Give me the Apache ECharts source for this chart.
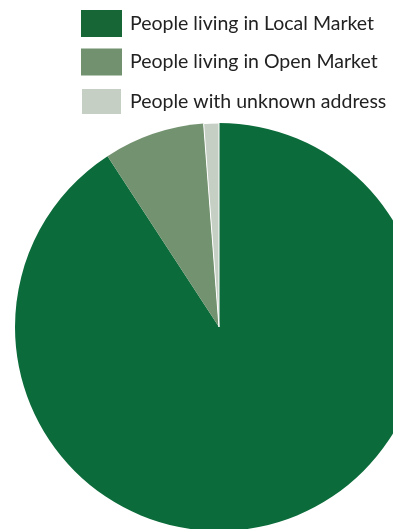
<!DOCTYPE html>
<html>
<head>
<meta charset="utf-8">
<script src="https://cdn.jsdelivr.net/npm/echarts@6/dist/echarts.min.js"></script>
<style>
  html, body { margin: 0; padding: 0; background: #fff; }
  #chart { width: 393px; height: 529px; }
</style>
</head>
<body>
<div id="chart"></div>
<script>
// Share of people by residence
const categories = [
  'People living in Local Market',
  'People living in Open Market',
  'People with unknown address'
];
const shares = [90.8, 8.0, 1.2];
const colors = ['#0b6b3a', '#73926f', '#c5cfc4'];
const legendColors = ['#176636', '#72916f', '#c5cfc4'];

const chart = echarts.init(document.getElementById('chart'));
chart.setOption({
  animation: false,
  legend: {
    left: 80,
    top: 10,
    padding: 0,
    orient: 'vertical',
    itemWidth: 41,
    itemHeight: 27,
    itemGap: 11.5,
    icon: 'rect',
    selectedMode: false,
    textStyle: { fontFamily: 'Lato', fontSize: 19.5, color: '#222', padding: [0, 0, 0, 3] },
    data: categories.map((name, i) => ({ name, itemStyle: { color: legendColors[i] } }))
  },
  series: [{
    type: 'pie',
    center: [219, 327],
    radius: 204,
    startAngle: 90,
    clockwise: true,
    label: { show: false },
    labelLine: { show: false },
    emphasis: { disabled: true },
    data: categories.map((name, i) => ({
      name,
      value: shares[i],
      itemStyle: {
        color: colors[i],
        borderColor: i === 2 ? '#ffffff' : colors[i],
        borderWidth: i === 2 ? 1 : 0
      }
    }))
  }]
});
</script>
</body>
</html>
